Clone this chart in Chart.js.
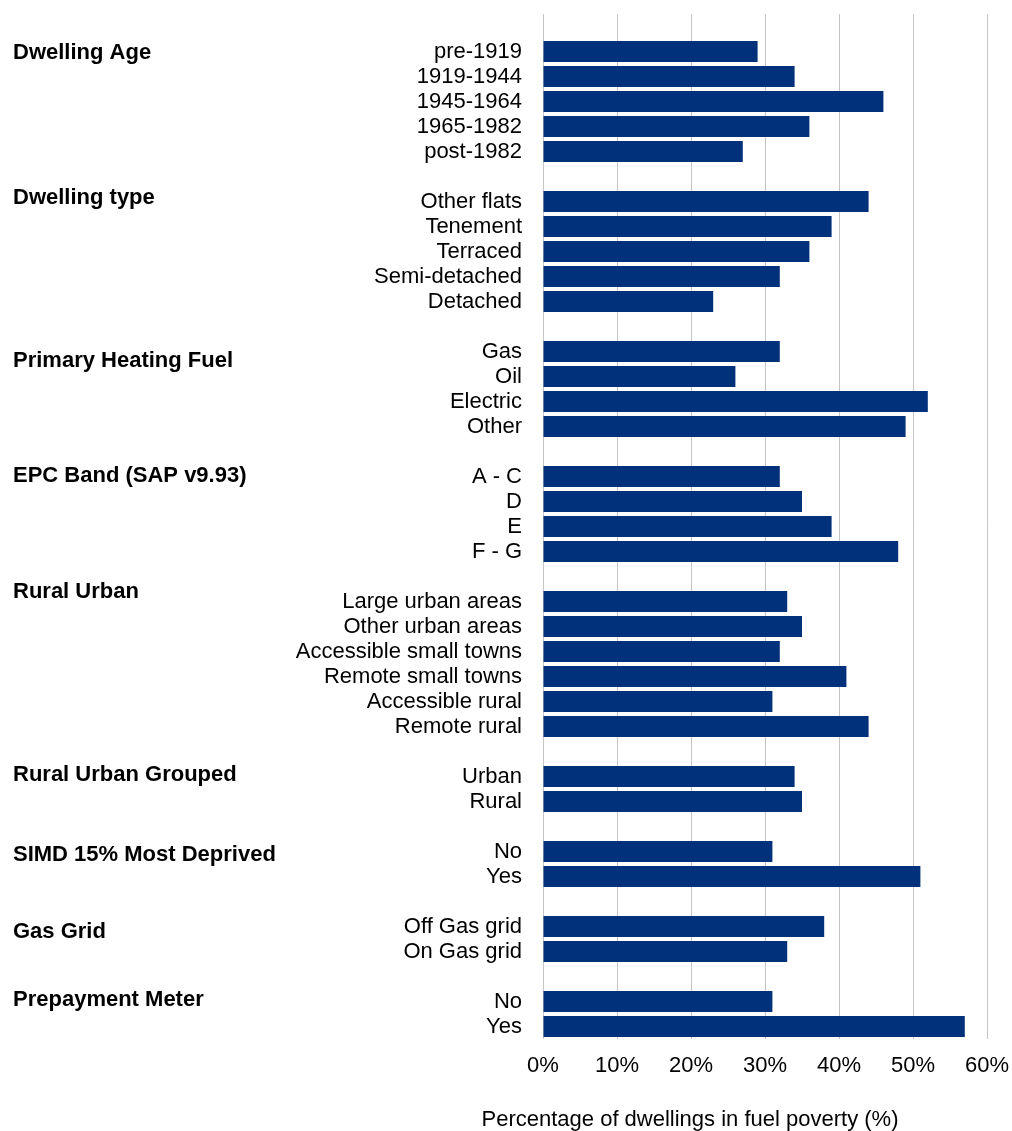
<!DOCTYPE html>
<html>
<head>
<meta charset="utf-8">
<script src="https://cdn.jsdelivr.net/npm/chart.js@4/dist/chart.umd.min.js"></script>
<style>
  html, body { margin: 0; padding: 0; background: #fff; }
  canvas { display: block; }
</style>
</head>
<body>
<canvas id="fuel-chart" width="1012" height="1131"></canvas>
<script>
// Group headings shown down the left-hand side
const groupNames = [
  'Dwelling Age',
  'Dwelling type',
  'Primary Heating Fuel',
  'EPC Band (SAP v9.93)',
  'Rural Urban',
  'Rural Urban Grouped',
  'SIMD 15% Most Deprived',
  'Gas Grid',
  'Prepayment Meter'
];

// Categories within each group
const groupItems = [
  ['pre-1919', '1919-1944', '1945-1964', '1965-1982', 'post-1982'],
  ['Other flats', 'Tenement', 'Terraced', 'Semi-detached', 'Detached'],
  ['Gas', 'Oil', 'Electric', 'Other'],
  ['A - C', 'D', 'E', 'F - G'],
  ['Large urban areas', 'Other urban areas', 'Accessible small towns', 'Remote small towns', 'Accessible rural', 'Remote rural'],
  ['Urban', 'Rural'],
  ['No', 'Yes'],
  ['Off Gas grid', 'On Gas grid'],
  ['No', 'Yes']
];

// Percentage of dwellings in fuel poverty
const groupValues = [
  [29, 34, 46, 36, 27],
  [44, 39, 36, 32, 23],
  [32, 26, 52, 49],
  [32, 35, 39, 48],
  [33, 35, 32, 41, 31, 44],
  [34, 35],
  [31, 51],
  [38, 33],
  [31, 57]
];

// x axis ticks (%)
const xTicks = [0, 10, 20, 30, 40, 50, 60];

const axisTitle = 'Percentage of dwellings in fuel poverty (%)';

// small vertical nudges for the group headings (px)
const headingNudge = [-1, -6, 7, -3, -12, -4, 1, 3, -4];

const FONT = "'Liberation Sans', Arial, sans-serif";
const barColour = '#00317a';

// flatten the groups, each one preceded by a blank row
const labels = [];
const values = [];
const firstRow = [];
groupItems.forEach((items, g) => {
  labels.push('');
  values.push(null);
  firstRow.push(labels.length);
  items.forEach((item, i) => {
    labels.push(item);
    values.push(groupValues[g][i]);
  });
});

// stop the scales pushing the plot area in for overhanging labels
function noOverhang(scale) {
  scale.paddingTop = 0;
  scale.paddingBottom = 0;
  scale.paddingLeft = 0;
  scale.paddingRight = 0;
}

// bold group headings beside the first row of each group, plus the axis title
const groupHeadings = {
  id: 'groupHeadings',
  afterDraw(chart) {
    const ctx = chart.ctx;
    const yScale = chart.scales.y;
    ctx.save();
    ctx.fillStyle = '#000';
    ctx.textBaseline = 'alphabetic';

    ctx.font = 'bold 22px ' + FONT;
    ctx.textAlign = 'left';
    groupNames.forEach((name, g) => {
      const y = yScale.getPixelForValue(firstRow[g]) + headingNudge[g];
      ctx.fillText(name, 13, y + 8);
    });

    ctx.font = '22px ' + FONT;
    ctx.textAlign = 'center';
    ctx.fillText(axisTitle, 690, chart.height - 5);
    ctx.restore();
  }
};

new Chart(document.getElementById('fuel-chart'), {
  type: 'bar',
  data: {
    labels: labels,
    datasets: [{
      data: values,
      backgroundColor: barColour,
      borderWidth: 0,
      barPercentage: 0.84,
      categoryPercentage: 1
    }]
  },
  options: {
    indexAxis: 'y',
    responsive: false,
    animation: false,
    layout: { padding: { top: 14, right: 25, left: 0, bottom: 0 } },
    plugins: {
      legend: { display: false },
      tooltip: { enabled: false }
    },
    scales: {
      x: {
        min: xTicks[0],
        max: xTicks[xTicks.length - 1],
        afterBuildTicks(scale) {
          scale.ticks = xTicks.map(v => ({ value: v }));
        },
        afterFit(scale) {
          scale.height = 92;
          noOverhang(scale);
        },
        ticks: {
          callback: v => v + '%',
          color: '#000',
          font: { family: FONT, size: 22 },
          padding: 14,
          maxRotation: 0
        },
        grid: { color: '#c4c4c4', lineWidth: 1, drawTicks: false },
        border: { display: false }
      },
      y: {
        afterFit(scale) {
          scale.width = 543;
          noOverhang(scale);
        },
        ticks: {
          autoSkip: false,
          color: '#000',
          font: { family: FONT, size: 22 },
          padding: 21
        },
        grid: { display: false, drawTicks: false },
        border: { display: false }
      }
    }
  },
  plugins: [groupHeadings]
});
</script>
</body>
</html>
